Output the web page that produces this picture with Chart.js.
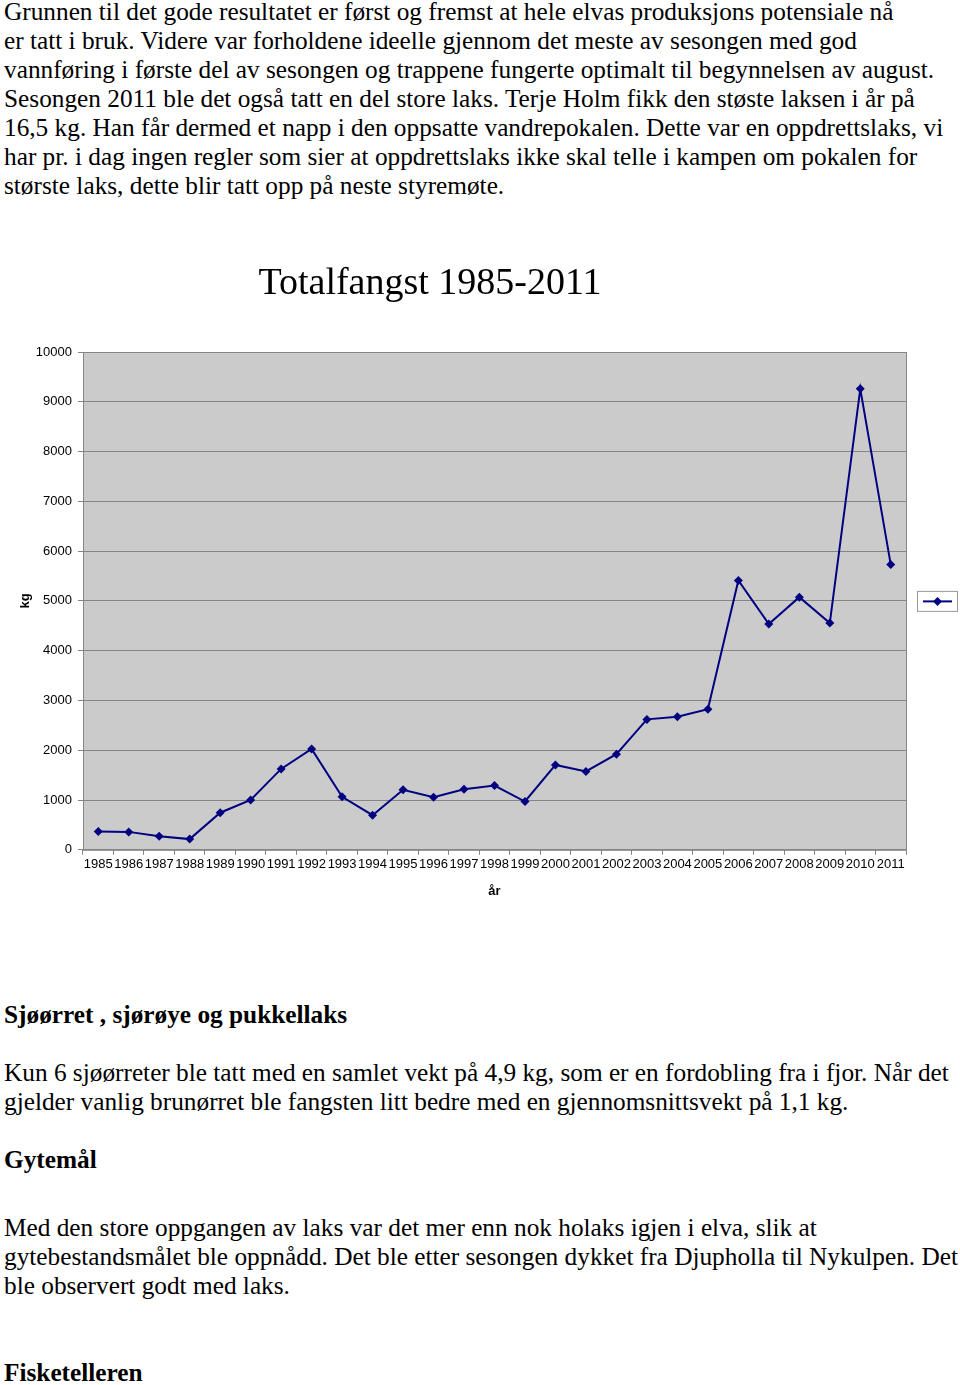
<!DOCTYPE html>
<html>
<head>
<meta charset="utf-8">
<script src="https://cdn.jsdelivr.net/npm/chart.js@4.4.0/dist/chart.umd.min.js"></script>
<style>
    body { margin: 0; background: #fff; width: 960px; height: 1385px; position: relative; overflow: hidden; }
    .txt { position: absolute; left: 4px; font-family: "Liberation Serif", "Times New Roman", serif; font-size: 25.3px; line-height: 29px; color: #000; white-space: nowrap; }
    .txt.b { font-weight: bold; }
    #chartTitle { position: absolute; left: 0; width: 860px; top: 258px; text-align: center; font-family: "Liberation Serif", "Times New Roman", serif; font-size: 38px; line-height: 46px; color: #000; }
    #chartBox { position: absolute; left: 0; top: 240px; width: 960px; height: 680px; }
</style>
</head>
<body>
<div class="txt" style="top:-3px">Grunnen til det gode resultatet er først og fremst at hele elvas produksjons potensiale nå<br>er tatt i bruk. Videre var forholdene ideelle gjennom det meste av sesongen med god<br>vannføring i første del av sesongen og trappene fungerte optimalt til begynnelsen av august.<br>Sesongen 2011 ble det også tatt en del store laks. Terje Holm fikk den støste laksen i år på<br>16,5 kg. Han får dermed et napp i den oppsatte vandrepokalen. Dette var en oppdrettslaks, vi<br>har pr. i dag ingen regler som sier at oppdrettslaks ikke skal telle i kampen om pokalen for<br>største laks, dette blir tatt opp på neste styremøte.</div>

<div id="chartBox"><canvas id="fangstChart" width="960" height="680"></canvas></div>
<div id="chartTitle">Totalfangst 1985-2011</div>

<div class="txt b" style="top:1000px">Sjøørret , sjørøye og pukkellaks</div>
<div class="txt" style="top:1058px">Kun 6 sjøørreter ble tatt med en samlet vekt på 4,9 kg, som er en fordobling fra i fjor. Når det<br>gjelder vanlig brunørret ble fangsten litt bedre med en gjennomsnittsvekt på 1,1 kg.</div>
<div class="txt b" style="top:1145px">Gytemål</div>
<div class="txt" style="top:1213px">Med den store oppgangen av laks var det mer enn nok holaks igjen i elva, slik at<br>gytebestandsmålet ble oppnådd. Det ble etter sesongen dykket fra Djupholla til Nykulpen. Det<br>ble observert godt med laks.</div>
<div class="txt b" style="top:1358px">Fisketelleren</div>

<script>
// Chart data
const years = ['1985', '1986', '1987', '1988', '1989', '1990', '1991', '1992', '1993', '1994',
    '1995', '1996', '1997', '1998', '1999', '2000', '2001', '2002', '2003', '2004',
    '2005', '2006', '2007', '2008', '2009', '2010', '2011'];
const totalKg = [370, 360, 270, 215, 745, 1000, 1625, 2025, 1065, 695,
    1205, 1055, 1215, 1290, 970, 1705, 1575, 1920, 2620, 2675,
    2825, 5410, 4535, 5075, 4555, 9260, 5730];
const yMin = 0;
const yMax = 10000;
const yStep = 1000;

const lineColor = '#000080';
const gridColor = '#858585';

// grey plot area with a frame
const plotBackground = {
    id: 'plotBackground',
    beforeDraw(chart) {
        const { ctx, chartArea: a } = chart;
        ctx.save();
        ctx.fillStyle = '#cbcbcb';
        ctx.fillRect(a.left, a.top, a.right - a.left, a.bottom - a.top);
        ctx.restore();
    },
    beforeDatasetsDraw(chart) {
        const { ctx, chartArea: a } = chart;
        ctx.save();
        ctx.strokeStyle = gridColor;
        ctx.lineWidth = 1;
        ctx.strokeRect(a.left + 0.5, a.top + 0.5, a.right - a.left, a.bottom - a.top);
        ctx.restore();
    }
};

// small legend box with only the line sample
const lineLegend = {
    id: 'lineLegend',
    afterDraw(chart) {
        const { ctx, chartArea: a } = chart;
        const x = a.right + 11, w = 40, h = 20;
        const y = (a.top + a.bottom) / 2 - h / 2;
        ctx.save();
        ctx.fillStyle = '#fff';
        ctx.fillRect(x, y, w, h);
        ctx.strokeStyle = '#999';
        ctx.lineWidth = 1;
        ctx.strokeRect(x + 0.5, y + 0.5, w, h);
        ctx.strokeStyle = lineColor;
        ctx.lineWidth = 2;
        ctx.beginPath();
        ctx.moveTo(x + 6, y + h / 2 + 0.5);
        ctx.lineTo(x + w - 5, y + h / 2 + 0.5);
        ctx.stroke();
        ctx.fillStyle = lineColor;
        const cx = x + w / 2 + 0.5, cy = y + h / 2 + 0.5;
        ctx.beginPath();
        ctx.moveTo(cx, cy - 4.5);
        ctx.lineTo(cx + 4.5, cy);
        ctx.lineTo(cx, cy + 4.5);
        ctx.lineTo(cx - 4.5, cy);
        ctx.closePath();
        ctx.fill();
        ctx.restore();
    }
};

const ctx = document.getElementById('fangstChart').getContext('2d');
const fangstChart = new Chart(ctx, {
    type: 'line',
    data: {
        labels: years,
        datasets: [{
            label: 'Totalfangst',
            data: totalKg,
            borderColor: lineColor,
            backgroundColor: lineColor,
            borderWidth: 2,
            pointStyle: 'rectRot',
            pointRadius: 4.5,
            pointBackgroundColor: lineColor,
            pointBorderColor: lineColor,
            pointBorderWidth: 0,
            tension: 0
        }]
    },
    options: {
        responsive: false,
        animation: false,
        layout: { padding: { left: 18, right: 54, top: 112, bottom: 21 } },
        plugins: {
            legend: { display: false },
            tooltip: { enabled: false },
            title: { display: false }
        },
        scales: {
            x: {
                offset: true,
                grid: { offset: true, drawOnChartArea: false, drawTicks: true, tickLength: 5, color: gridColor },
                border: { display: true, color: gridColor },
                ticks: {
                    autoSkip: false, maxRotation: 0, minRotation: 0, padding: 2,
                    color: '#000', font: { family: 'Liberation Sans', size: 13 }
                },
                title: {
                    display: true, text: 'år', color: '#000',
                    font: { family: 'Liberation Sans', size: 13, weight: 'bold' },
                    padding: { top: 9, bottom: 0 }
                }
            },
            y: {
                min: yMin,
                max: yMax,
                afterFit(scale) { scale.width = 65; },
                grid: { color: gridColor, drawTicks: true, tickLength: 5 },
                border: { display: true, color: gridColor },
                ticks: {
                    stepSize: yStep, padding: 6,
                    color: '#000', font: { family: 'Liberation Sans', size: 13 },
                    callback: (v) => String(v)
                },
                title: {
                    display: true, text: 'kg', color: '#000',
                    font: { family: 'Liberation Sans', size: 13, weight: 'bold' },
                    padding: { top: 0, bottom: 0 }
                }
            }
        }
    },
    plugins: [plotBackground, lineLegend]
});
console.log('chart area', fangstChart.chartArea);
</script>
</body>
</html>
